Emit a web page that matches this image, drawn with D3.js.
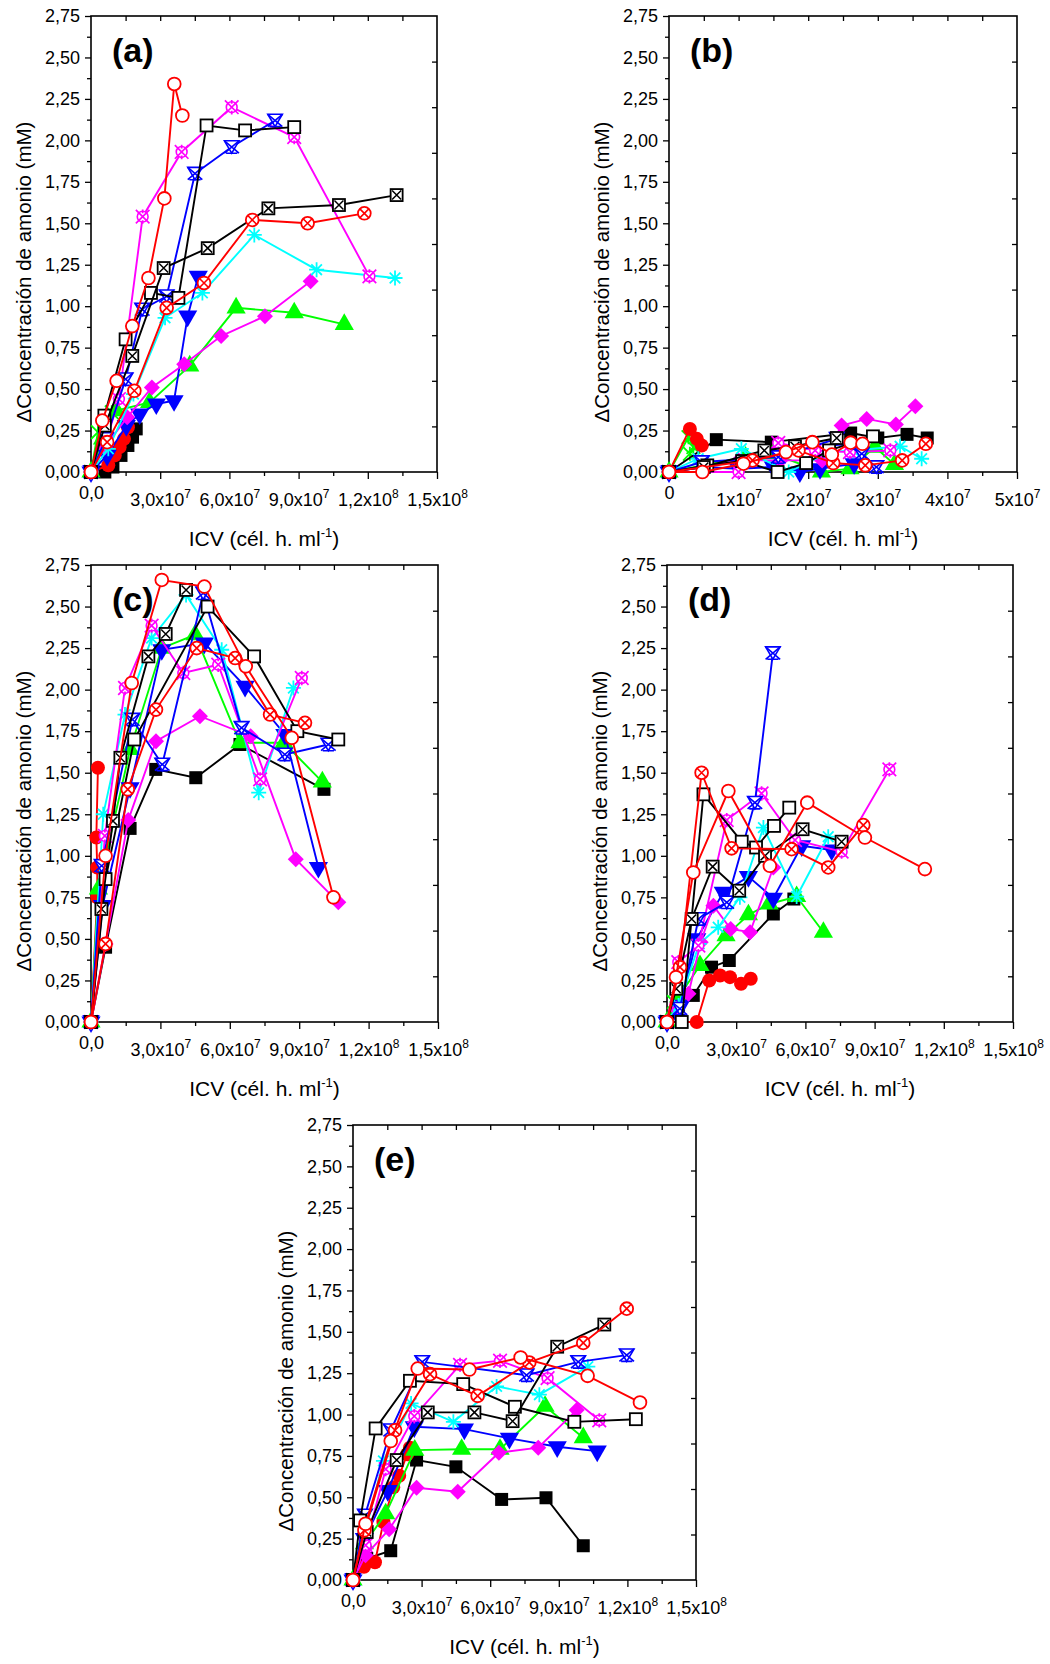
<!DOCTYPE html>
<html>
<head>
<meta charset="utf-8">
<script src="https://cdn.jsdelivr.net/npm/d3@7/dist/d3.min.js"></script>
<style>
  body { margin: 0; background: #fff; }
  text { font-family: Arial, "Liberation Sans", Helvetica, sans-serif; fill: #000; }
</style>
</head>
<body>
<svg id="chart" width="1050" height="1664"></svg>
<script>
// x values are ICV in units of 1e7 cel.h/ml, y values are delta ammonium (mM)

const yTicks = [0, 0.25, 0.5, 0.75, 1, 1.25, 1.5, 1.75, 2, 2.25, 2.5, 2.75];
const wideTicks = [0, 3, 6, 9, 12, 15];
const wideLabels = [["0,0", ""], ["3,0x10", "7"], ["6,0x10", "7"], ["9,0x10", "7"], ["1,2x10", "8"], ["1,5x10", "8"]];
const narrowTicks = [0, 1, 2, 3, 4, 5];
const narrowLabels = [["0", ""], ["1x10", "7"], ["2x10", "7"], ["3x10", "7"], ["4x10", "7"], ["5x10", "7"]];

// draw order = list order (last on top)
const seriesOrder = ["greenX", "sqFill", "circFill", "triUp", "triDown", "diamond", "aster",
  "magX", "blueX", "sqOpen", "sqX", "circX", "circOpen"];

const panelA = {
  greenX:   [[0,0],[0.3,0.24],[0.55,0.28],[0.9,0.36]],
  sqFill:   [[0,0],[0.6,0],[0.95,0.03],[1.3,0.1],[1.6,0.16],[1.8,0.21],[1.96,0.26]],
  circFill: [[0,0],[0.75,0.04],[1.03,0.1],[1.24,0.15],[1.43,0.2],[1.6,0.27]],
  triUp:    [[0,0],[0.5,0.2],[1.1,0.37],[2.54,0.42],[4.28,0.64],[6.29,0.99],[8.81,0.96],[10.98,0.89]],
  triDown:  [[0,0],[0.7,0.1],[1.53,0.28],[2.11,0.35],[2.83,0.41],[3.6,0.43],[4.19,0.94],[4.65,1.18]],
  diamond:  [[0,0],[0.6,0.15],[1.57,0.33],[2.64,0.51],[4.04,0.65],[5.64,0.82],[7.54,0.94],[9.52,1.15]],
  aster:    [[0,0],[0.75,0.14],[1.84,0.47],[3.21,0.93],[4.83,1.08],[7.08,1.43],[9.78,1.22],[13.18,1.17]],
  magX:     [[0,0],[0.69,0.2],[1.21,0.44],[2.24,1.54],[3.93,1.93],[6.1,2.2],[8.81,2.02],[12.07,1.18]],
  blueX:    [[0,0],[0.65,0.2],[1.5,0.56],[2.22,0.98],[3.28,1.06],[4.51,1.8],[6.1,1.96],[7.98,2.12]],
  sqOpen:   [[0,0],[0.58,0.34],[1.5,0.8],[2.6,1.08],[3.79,1.05],[5.01,2.09],[6.68,2.06],[8.81,2.08]],
  sqX:      [[0,0],[0.6,0.28],[1.79,0.7],[3.15,1.23],[5.06,1.35],[7.69,1.59],[10.75,1.61],[13.25,1.67]],
  circX:    [[0,0],[0.7,0.18],[1.88,0.49],[3.28,0.99],[4.9,1.14],[6.99,1.52],[9.39,1.5],[11.85,1.56]],
  circOpen: [[0,0],[0.49,0.31],[1.11,0.55],[1.79,0.88],[2.49,1.17],[3.18,1.65],[3.61,2.34],[3.96,2.15]]
};

const panelB = {
  greenX:   [[0,0],[0.28,0.21],[0.35,0.15],[0.3,0.11]],
  sqFill:   [[0,0],[0.68,0.195],[1.47,0.18],[2.61,0.235],[3.0,0.205],[3.42,0.227],[3.71,0.205]],
  circFill: [[0,0],[0.3,0.26],[0.4,0.2],[0.47,0.16]],
  triUp:    [[0,0],[1.1,0.09],[1.5,0.11],[2.19,0],[2.6,0.02],[2.96,0.15],[3.24,0.045]],
  triDown:  [[0,0],[0.5,0.03],[1.0,0.02],[1.5,0.03],[1.88,0],[2.17,0.02],[2.66,0.05]],
  diamond:  [[0,0],[0.5,0.03],[1.0,0.07],[1.6,0.07],[2.2,0.07],[2.48,0.28],[2.84,0.32],[3.26,0.287],[3.54,0.396]],
  aster:    [[0,0],[0.42,0.08],[1.04,0.14],[1.72,0],[2.3,0.12],[2.65,0.13],[3.32,0.155],[3.63,0.08]],
  magX:     [[0,0],[1.0,0],[1.57,0.175],[2.1,0.13],[2.6,0.12],[3.18,0.13]],
  blueX:    [[0,0],[0.47,0.06],[1.57,0.09],[2.41,0.2],[2.77,0.11],[2.98,0.03]],
  sqOpen:   [[0,0],[0.55,0.04],[1.05,0.066],[1.56,0],[1.97,0.054],[2.3,0.13],[2.93,0.215]],
  sqX:      [[0,0],[0.5,0.03],[1.37,0.13],[1.81,0.155],[2.41,0.205]],
  circX:    [[0,0],[1.2,0.07],[1.86,0.13],[2.36,0.054],[2.82,0.04],[3.35,0.07],[3.69,0.17]],
  circOpen: [[0,0],[0.48,0],[1.07,0.05],[1.68,0.12],[2.06,0.18],[2.34,0.105],[2.61,0.177],[2.78,0.17]]
};

const panelC = {
  sqFill:   [[0,0],[0.63,0.45],[1.69,1.165],[2.8,1.52],[4.53,1.47],[6.44,1.67],[10.07,1.4]],
  circFill: [[0,0],[0.27,0.75],[0.27,0.93],[0.23,1.11],[0.3,1.53]],
  triUp:    [[0,0],[0.32,0.8],[1.69,1.64],[3.06,2.25],[4.5,2.33],[6.44,1.68],[8.34,1.68],[10.0,1.445]],
  triDown:  [[0,0],[0.5,0.7],[1.69,1.41],[3.06,2.24],[4.9,2.28],[6.66,2.02],[8.38,1.73],[9.83,0.93]],
  diamond:  [[0,0],[0.63,0.47],[1.61,1.215],[2.81,1.69],[4.71,1.84],[6.9,1.72],[8.85,0.98],[10.69,0.72]],
  aster:    [[0,0],[0.53,1.25],[1.47,1.85],[2.62,2.31],[4.11,2.57],[5.65,2.24],[7.25,1.38],[8.75,2.01]],
  magX:     [[0,0],[0.6,1.12],[1.47,2.01],[2.62,2.385],[3.99,2.1],[5.5,2.15],[7.31,1.46],[9.11,2.07]],
  blueX:    [[0,0],[0.46,0.94],[1.79,1.82],[3.08,1.55],[4.85,2.58],[6.51,1.77],[8.38,1.61],[10.26,1.67]],
  sqOpen:   [[0,0],[0.63,0.86],[1.87,1.7],[5.04,2.5],[7.05,2.2],[8.92,1.75],[10.69,1.7]],
  sqX:      [[0,0],[0.45,0.68],[0.95,1.21],[1.27,1.59],[2.48,2.2],[3.23,2.335],[4.11,2.6]],
  circX:    [[0,0],[0.63,0.47],[1.59,1.4],[2.81,1.88],[4.57,2.25],[6.23,2.19],[7.74,1.85],[9.25,1.8]],
  circOpen: [[0,0],[0.63,1.0],[1.76,2.04],[3.06,2.66],[4.9,2.62],[6.69,2.14],[8.68,1.71],[10.48,0.75]]
};

const panelD = {
  greenX:   [[0,0],[0.3,0.12],[0.6,0.2]],
  sqFill:   [[0,0],[0.5,0.1],[1.14,0.16],[1.93,0.33],[2.7,0.37],[4.61,0.65],[5.5,0.74]],
  circFill: [[0,0],[1.29,0],[1.83,0.25],[2.3,0.28],[2.73,0.27],[3.21,0.23],[3.63,0.26]],
  triUp:    [[0,0],[0.5,0.15],[1.43,0.34],[2.56,0.52],[3.53,0.645],[4.43,0.71],[5.62,0.755],[6.78,0.54]],
  triDown:  [[0,0],[0.6,0.1],[1.29,0.5],[2.44,0.78],[3.53,0.875],[4.61,0.745],[5.84,1.06],[7.14,1.035]],
  diamond:  [[0,0],[0.4,0.08],[0.93,0.17],[1.46,0.48],[2.01,0.7],[2.76,0.56],[3.6,0.54],[4.61,0.93]],
  aster:    [[0,0],[0.5,0.1],[1.4,0.47],[2.22,0.57],[3.16,0.75],[4.18,1.17],[5.62,0.755],[6.99,1.115]],
  magX:     [[0,0],[0.49,0.36],[1.36,0.46],[2.59,1.215],[4.1,1.375],[5.55,1.095],[7.57,1.025],[9.64,1.52]],
  blueX:    [[0,0],[0.56,0.08],[1.36,0.62],[2.59,0.72],[3.81,1.32],[4.59,2.22]],
  sqOpen:   [[0,0],[0.64,0],[1.58,1.37],[3.24,1.085],[3.86,1.05],[4.64,1.18],[5.3,1.29]],
  sqX:      [[0,0],[0.4,0.2],[1.07,0.62],[1.98,0.935],[3.13,0.79],[4.25,1.0],[5.88,1.16],[7.57,1.085]],
  circX:    [[0,0],[0.56,0.33],[1.5,1.5],[2.8,1.045],[5.4,1.04],[6.99,0.93],[8.51,1.185]],
  circOpen: [[0,0],[0.39,0.27],[1.14,0.9],[2.66,1.39],[4.46,0.94],[6.08,1.32],[8.58,1.11],[11.18,0.92]]
};

const panelE = {
  sqFill:   [[0,0],[0.6,0.13],[1.65,0.177],[2.78,0.725],[4.5,0.684],[6.5,0.487],[8.44,0.497],[10.07,0.207]],
  circFill: [[0,0],[0.48,0.08],[0.96,0.107],[1.33,0.35],[1.76,0.56],[2.02,0.63],[2.37,0.76],[2.49,0.8]],
  triUp:    [[0,0],[0.5,0.22],[1.43,0.4],[2.7,0.785],[4.75,0.79],[6.43,0.79],[8.4,1.05],[10.07,0.86]],
  triDown:  [[0,0],[0.5,0.25],[1.52,0.54],[2.68,0.926],[4.87,0.912],[6.84,0.856],[8.93,0.805],[10.68,0.779]],
  diamond:  [[0,0],[0.55,0.15],[1.58,0.306],[2.78,0.557],[4.58,0.533],[6.38,0.769],[8.1,0.8],[9.78,1.027]],
  aster:    [[0,0],[0.55,0.3],[1.33,0.72],[2.54,1.067],[4.39,0.956],[6.28,1.17],[8.15,1.12],[10.27,1.29]],
  magX:     [[0,0],[0.55,0.21],[1.43,0.67],[2.68,0.99],[4.68,1.3],[6.43,1.325],[8.51,1.22],[10.77,0.965]],
  blueX:    [[0,0],[0.52,0.39],[1.65,0.905],[3.03,1.318],[7.59,1.238],[9.85,1.318],[11.97,1.359]],
  sqOpen:   [[0,0],[0.31,0.36],[0.99,0.916],[2.49,1.204],[4.82,1.184],[7.08,1.047],[9.68,0.956],[12.37,0.972]],
  sqX:      [[0,0],[0.6,0.29],[1.91,0.725],[3.27,1.013],[5.31,1.013],[6.98,0.96],[8.93,1.41],[10.99,1.544]],
  circX:    [[0,0],[0.5,0.3],[1.84,0.905],[3.37,1.244],[5.45,1.113],[7.71,1.315],[10.07,1.433],[11.97,1.64]],
  circOpen: [[0,0],[0.55,0.34],[1.65,0.84],[2.83,1.278],[5.09,1.272],[7.33,1.345],[10.26,1.234],[12.55,1.073]]
};

const colors = {
  greenX: "#00ff00", sqFill: "#000", circFill: "#ff0000", triUp: "#00ff00", triDown: "#0000ff",
  diamond: "#ff00ff", aster: "#00ffff", magX: "#ff00ff", blueX: "#0000ff",
  sqOpen: "#000", sqX: "#000", circX: "#ff0000", circOpen: "#ff0000"
};

const svg = d3.select("#chart");
const fmtY = d => d3.format(".2f")(d).replace(".", ",");

function marker(g, type, c) {
  const sw = 1.8;
  if (type === "sqFill") {
    g.append("rect").attr("x", -6.5).attr("y", -6.5).attr("width", 13).attr("height", 13).attr("fill", c);
  } else if (type === "sqOpen" || type === "sqX") {
    g.append("rect").attr("x", -6).attr("y", -6).attr("width", 12).attr("height", 12)
      .attr("fill", "#fff").attr("stroke", c).attr("stroke-width", sw);
    if (type === "sqX") g.append("path").attr("d", "M-4.5,-4.5L4.5,4.5M-4.5,4.5L4.5,-4.5").attr("stroke", c).attr("stroke-width", 1.5);
  } else if (type === "circFill") {
    g.append("circle").attr("r", 7).attr("fill", c);
  } else if (type === "circOpen" || type === "circX") {
    g.append("circle").attr("r", 6.4).attr("fill", "#fff").attr("stroke", c).attr("stroke-width", sw);
    if (type === "circX") g.append("path").attr("d", "M-4.5,-4.5L4.5,4.5M-4.5,4.5L4.5,-4.5").attr("stroke", c).attr("stroke-width", 1.6);
  } else if (type === "triUp" || type === "triDown") {
    g.append("path").attr("d", d3.symbol(d3.symbolTriangle, 160)())
      .attr("transform", type === "triDown" ? "rotate(180)" : null).attr("fill", c);
  } else if (type === "diamond") {
    g.append("path").attr("d", "M0,-8L8,0L0,8L-8,0Z").attr("fill", c);
  } else if (type === "aster") {
    g.append("path").attr("d", "M-7.5,0H7.5M0,-7.5V7.5M-5.3,-5.3L5.3,5.3M-5.3,5.3L5.3,-5.3")
      .attr("stroke", c).attr("stroke-width", 1.8);
  } else if (type === "magX") {
    g.append("circle").attr("r", 5.4).attr("fill", "#fff").attr("stroke", c).attr("stroke-width", 1.6);
    g.append("path").attr("d", "M-6.8,-6.8L6.8,6.8M-6.8,6.8L6.8,-6.8M0,-7.2V-3.5M0,7.2V3.5")
      .attr("stroke", c).attr("stroke-width", 1.7);
  } else if (type === "blueX") {
    g.append("path").attr("d", "M-7.3,-6.2H7.3L0,6.2Z").attr("fill", "#fff").attr("stroke", c).attr("stroke-width", 1.6);
    g.append("path").attr("d", "M-7.3,-6.2L7.3,6.2M7.3,-6.2L-7.3,6.2M-5.6,6.2H5.6")
      .attr("stroke", c).attr("stroke-width", 1.6);
  } else if (type === "greenX") {
    g.append("path").attr("d", "M-6.8,-6.8L6.8,6.8M-6.8,6.8L6.8,-6.8M0,-7V7").attr("stroke", c).attr("stroke-width", 1.8);
  }
}

function drawPanel(p) {
  const x = d3.scaleLinear().domain([0, p.xMax]).range([p.left, p.right]);
  const y = d3.scaleLinear().domain([0, 2.75]).range([p.bottom, p.top]);
  const g = svg.append("g");

  // left axis: labelled majors + minors
  const yMinor = d3.range(0.125, 2.75, 0.25);
  g.append("g").attr("transform", `translate(${p.left},0)`)
    .call(d3.axisLeft(y).tickValues(yTicks).tickSize(6).tickPadding(5).tickFormat(fmtY))
    .call(a => a.selectAll("text").style("font-size", "18px").attr("font-family", null));
  g.append("g").attr("transform", `translate(${p.left},0)`)
    .call(d3.axisLeft(y).tickValues(yMinor).tickSize(4).tickFormat(""));

  // right axis, inward ticks
  g.append("g").attr("transform", `translate(${p.right},0)`)
    .call(d3.axisRight(y).tickValues(d3.range(1, 10).map(i => i * 0.275)).tickSize(-5).tickFormat(""));

  // bottom axis
  const step = p.ticks[1] - p.ticks[0];
  const xMinor = p.ticks.slice(0, -1).map(t => t + step / 2);
  const bottom = g.append("g").attr("transform", `translate(0,${p.bottom})`)
    .call(d3.axisBottom(x).tickValues(p.ticks).tickSize(7).tickFormat((d, i) => p.labels[i][0]));
  g.append("g").attr("transform", `translate(0,${p.bottom})`)
    .call(d3.axisBottom(x).tickValues(xMinor).tickSize(4).tickFormat(""));
  bottom.selectAll("text")
    .attr("font-family", null).style("font-size", "18px")
    .attr("dy", null)
    .attr("y", (d, i) => i === 0 ? 27 : 34)
    .each(function (d, i) {
      const sup = p.labels[i][1];
      if (sup) d3.select(this).append("tspan").attr("dy", -8).style("font-size", "12px").text(sup);
    });

  // top axis, inward ticks
  const topVals = d3.range(1, p.ticks.length * 2 - 2).map(i => i * step / 2);
  g.append("g").attr("transform", `translate(0,${p.top})`)
    .call(d3.axisTop(x).tickValues(topVals).tickSize(-5).tickFormat(""));

  g.selectAll(".domain").remove();
  g.selectAll(".tick line").attr("stroke", "#000").attr("stroke-width", 1.3);

  // frame
  g.append("rect").attr("x", p.left).attr("y", p.top)
    .attr("width", p.right - p.left).attr("height", p.bottom - p.top)
    .attr("fill", "none").attr("stroke", "#000").attr("stroke-width", 1.6);

  // data
  const line = d3.line().x(d => x(d[0])).y(d => y(d[1]));
  const plot = g.append("g");
  seriesOrder.forEach(key => {
    const pts = p.data[key];
    if (!pts) return;
    const c = colors[key];
    plot.append("path").datum(pts).attr("d", line)
      .attr("fill", "none").attr("stroke", c).attr("stroke-width", 1.9);
    plot.selectAll(null).data(pts).join("g")
      .attr("transform", d => `translate(${x(d[0])},${y(d[1])})`)
      .each(function () { marker(d3.select(this), key, c); });
  });

  // panel letter
  g.append("text").attr("x", p.left + 21).attr("y", p.top + 46)
    .style("font-size", "34px").style("font-weight", "bold").text(p.name);

  // axis titles
  const xt = g.append("text").attr("x", (p.left + p.right) / 2).attr("y", p.bottom + 74)
    .attr("text-anchor", "middle").style("font-size", "21px");
  xt.append("tspan").text("ICV (cél. h. ml");
  xt.append("tspan").attr("dy", -9).style("font-size", "13px").text("-1");
  xt.append("tspan").attr("dy", 9).text(")");

  g.append("text")
    .attr("transform", `translate(${p.left - 60},${p.top + 256}) rotate(-90)`)
    .attr("text-anchor", "middle").style("font-size", "20.5px")
    .text("ΔConcentración de amonio (mM)");
}

const panels = [
  { name: "(a)", data: panelA, left: 91, right: 437, top: 16, bottom: 472, xMax: 15, ticks: wideTicks, labels: wideLabels },
  { name: "(b)", data: panelB, left: 669, right: 1017, top: 16, bottom: 472, xMax: 5, ticks: narrowTicks, labels: narrowLabels },
  { name: "(c)", data: panelC, left: 91, right: 438, top: 565, bottom: 1022, xMax: 15, ticks: wideTicks, labels: wideLabels },
  { name: "(d)", data: panelD, left: 667, right: 1013, top: 565, bottom: 1022, xMax: 15, ticks: wideTicks, labels: wideLabels },
  { name: "(e)", data: panelE, left: 353, right: 696, top: 1125, bottom: 1580, xMax: 15, ticks: wideTicks, labels: wideLabels }
];

panels.forEach(drawPanel);
</script>
</body>
</html>
